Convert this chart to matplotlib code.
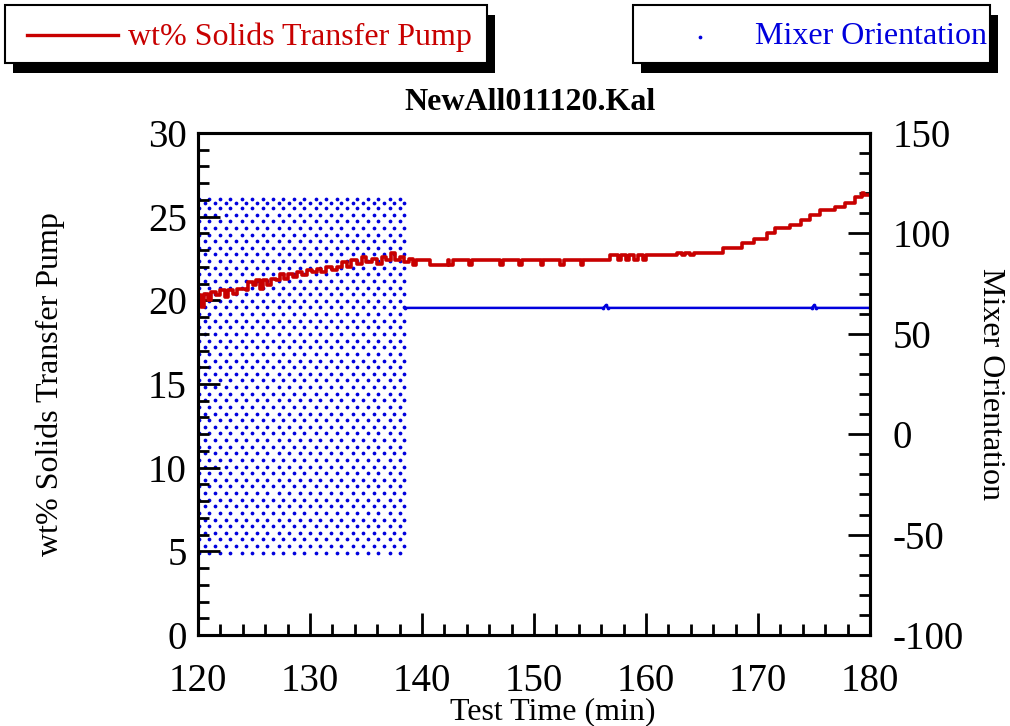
"""
Recreation of the KaleidaGraph plot NewAll011120.Kal:
wt% solids (left axis, step line) and mixer orientation (right axis, dots).
"""

import matplotlib
matplotlib.use('Agg')
import matplotlib.pyplot as plt
from matplotlib.patches import Rectangle
from matplotlib.ticker import MultipleLocator
import numpy as np

# wt% Solids Transfer Pump
wt_time = [120.0, 120.3, 120.5, 120.9, 121.2, 121.6, 122.0, 122.4, 122.7, 123.1,
           123.5, 124.3, 124.5, 124.9, 125.2, 125.5, 125.8, 126.2, 126.5, 127.0,
           127.3, 127.7, 128.0, 128.5, 128.8, 129.3, 129.7, 130.2, 130.6, 131.0,
           131.4, 132.0, 132.4, 132.9, 133.3, 133.7, 134.2, 134.6, 135.0, 135.5,
           136.0, 136.4, 136.8, 137.2, 137.6, 138.0, 138.4, 138.8, 139.2, 139.5,
           140.7, 142.3, 142.4, 142.5, 142.8, 144.2, 144.5, 147.0, 147.2, 148.7,
           148.9, 150.6, 150.8, 152.3, 152.7, 154.2, 154.4, 156.8, 157.5, 157.8,
           158.2, 158.5, 158.9, 159.3, 159.7, 160.0, 160.4, 162.8, 163.2, 163.5,
           163.9, 164.3, 166.9, 168.6, 169.6, 170.8, 171.5, 172.9, 173.8, 174.6,
           175.5, 176.9, 177.8, 178.7, 179.3, 179.5, 180.0]
wt_value = [20.3, 19.6, 20.4, 20.0, 20.5, 20.3, 20.6, 20.2, 20.6, 20.4,
            20.7, 20.6, 21.1, 20.9, 21.2, 20.7, 21.2, 20.9, 21.3, 21.2,
            21.6, 21.3, 21.6, 21.4, 21.7, 21.5, 21.8, 21.7, 21.9, 21.7,
            22.0, 21.8, 22.0, 22.3, 22.0, 22.4, 22.2, 22.6, 22.3, 22.5,
            22.2, 22.6, 22.4, 22.8, 22.4, 22.6, 22.3, 22.5, 22.1, 22.4,
            22.1, 22.4, 22.1, 22.1, 22.4, 22.1, 22.4, 22.1, 22.4, 22.1,
            22.4, 22.1, 22.4, 22.1, 22.4, 22.1, 22.4, 22.7, 22.4, 22.7,
            22.4, 22.7, 22.4, 22.7, 22.4, 22.7, 22.7, 22.85, 22.7, 22.85,
            22.7, 22.85, 23.1, 23.45, 23.65, 24.0, 24.3, 24.5, 24.8, 25.1,
            25.4, 25.6, 25.8, 26.2, 26.4, 26.3, 26.3]

# Mixer orientation while sweeping: sample columns and angle rows
mix_col_time = [120.1, 120.6, 121.0, 121.5, 122.0, 122.5, 122.9, 123.4, 123.9, 124.3,
                124.8, 125.3, 125.8, 126.2, 126.7, 127.2, 127.6, 128.1, 128.6, 129.1,
                129.5, 130.0, 130.5, 130.9, 131.4, 131.9, 132.4, 132.8, 133.3, 133.8,
                134.2, 134.7, 135.2, 135.7, 136.1, 136.6, 137.1, 137.5, 138.0, 138.4]
mix_rows_even = [-59.0, -52.4, -45.8, -39.2, -32.6, -26.0, -19.4, -12.8, -6.2, 0.4,
                 7.0, 13.6, 20.2, 26.8, 33.4, 40.0, 46.6, 53.2, 59.8, 66.4,
                 73.0, 79.6, 86.2, 92.8, 99.4, 106.0, 112.6, 117.0]
mix_rows_odd = [-55.7, -49.1, -42.5, -35.9, -29.3, -22.7, -16.1, -9.5, -2.9, 3.7,
                10.3, 16.9, 23.5, 30.1, 36.7, 43.3, 49.9, 56.5, 63.1, 69.7,
                76.3, 82.9, 89.5, 96.1, 102.7, 109.3, 115.0]

# Mixer orientation once parked
mix_hold_time = [138.5, 156.2, 156.4, 156.6, 174.8, 175.0, 175.2, 180.0]
mix_hold_value = [62.9, 62.9, 64.1, 62.9, 62.9, 64.1, 62.9, 62.9]

RED = '#c80000'
BLUE = '#0000dd'
FONT = 'Liberation Serif'


def main():
    plt.rcParams['font.family'] = [FONT, 'DejaVu Serif']
    plt.rcParams['axes.unicode_minus'] = False
    fig = plt.figure(figsize=(10.1, 7.26), dpi=100)
    W, H = 1010.0, 726.0
    ax = fig.add_axes([198 / W, 1 - 635 / H, 672 / W, 502 / H])
    ax2 = ax.twinx()

    # Mixer dots (right axis)
    xs, ys = [], []
    for i, t in enumerate(mix_col_time):
        rows = mix_rows_even if i % 2 == 0 else mix_rows_odd
        xs += [t] * len(rows)
        ys += rows
    ax2.plot(xs, ys, 'o', color=BLUE, ms=2.7, mew=0, zorder=2)
    ax2.plot(mix_hold_time, mix_hold_value, '-', color=BLUE, lw=1.8, zorder=2)
    ax2.plot(mix_hold_time, mix_hold_value, 'o', color=BLUE, ms=2.7, mew=0, zorder=2)

    # wt% step trace (left axis) drawn on top
    ax.set_zorder(ax2.get_zorder() + 1)
    ax.patch.set_visible(False)
    ax.plot(wt_time, wt_value, color=RED, lw=2.6, drawstyle='steps-post')

    ax.set_xlim(120, 180)
    ax.set_ylim(0, 30)
    ax2.set_ylim(-100, 150)

    ax.xaxis.set_major_locator(MultipleLocator(10))
    ax.xaxis.set_minor_locator(MultipleLocator(2))
    ax.yaxis.set_major_locator(MultipleLocator(5))
    ax.yaxis.set_minor_locator(MultipleLocator(1))
    ax2.yaxis.set_major_locator(MultipleLocator(50))
    ax2.yaxis.set_minor_locator(MultipleLocator(10))

    for a in (ax, ax2):
        a.tick_params(which='major', direction='in', length=16, width=2.0,
                      labelsize=28)
        a.tick_params(which='minor', direction='in', length=8, width=2.0)
        for s in a.spines.values():
            s.set_linewidth(2.2)
    ax.tick_params(axis='x', which='both', top=False, pad=20)
    ax.tick_params(axis='y', which='both', right=False, pad=8)
    ax2.tick_params(axis='y', pad=16)

    ax.set_xlabel('Test Time (min)', fontsize=23, labelpad=-2)
    ax.xaxis.label.set_x((553 - 198) / 672)
    ax.set_ylabel('wt% Solids Transfer Pump', fontsize=23, labelpad=60)
    ax2.set_ylabel('Mixer Orientation', fontsize=23, rotation=270, labelpad=30)
    fig.text(530 / W, 1 - 103 / H, 'NewAll011120.Kal', fontsize=23,
             fontweight='bold', ha='center', va='center')

    # Legend boxes with drop shadows (pixel coords, top-left origin)
    def box(x0, y0, x1, y1):
        fig.add_artist(Rectangle((x0 / W + 8 / W, 1 - (y1 + 10) / H),
                                 (x1 - x0) / W, (y1 - y0) / H,
                                 transform=fig.transFigure, facecolor='black',
                                 edgecolor='black', lw=0))
        fig.add_artist(Rectangle((x0 / W, 1 - y1 / H), (x1 - x0) / W, (y1 - y0) / H,
                                 transform=fig.transFigure, facecolor='white',
                                 edgecolor='black', lw=1.5))

    box(5, 5, 487, 63)
    fig.add_artist(plt.Line2D([27 / W, 118 / W], [1 - 35 / H, 1 - 35 / H],
                              color=RED, lw=2.4, transform=fig.transFigure))
    fig.text(128 / W, 1 - 37 / H, 'wt% Solids Transfer Pump', fontsize=23,
             color=RED, ha='left', va='center')

    box(633, 5, 990, 63)
    fig.add_artist(plt.Line2D([700 / W], [1 - 37 / H], marker='o', ms=2.7, mew=0,
                              color=BLUE, transform=fig.transFigure))
    fig.text(755 / W, 1 - 37 / H, 'Mixer Orientation', fontsize=23,
             color=BLUE, ha='left', va='center')

    fig.savefig('out.png', dpi=100)


if __name__ == '__main__':
    main()
